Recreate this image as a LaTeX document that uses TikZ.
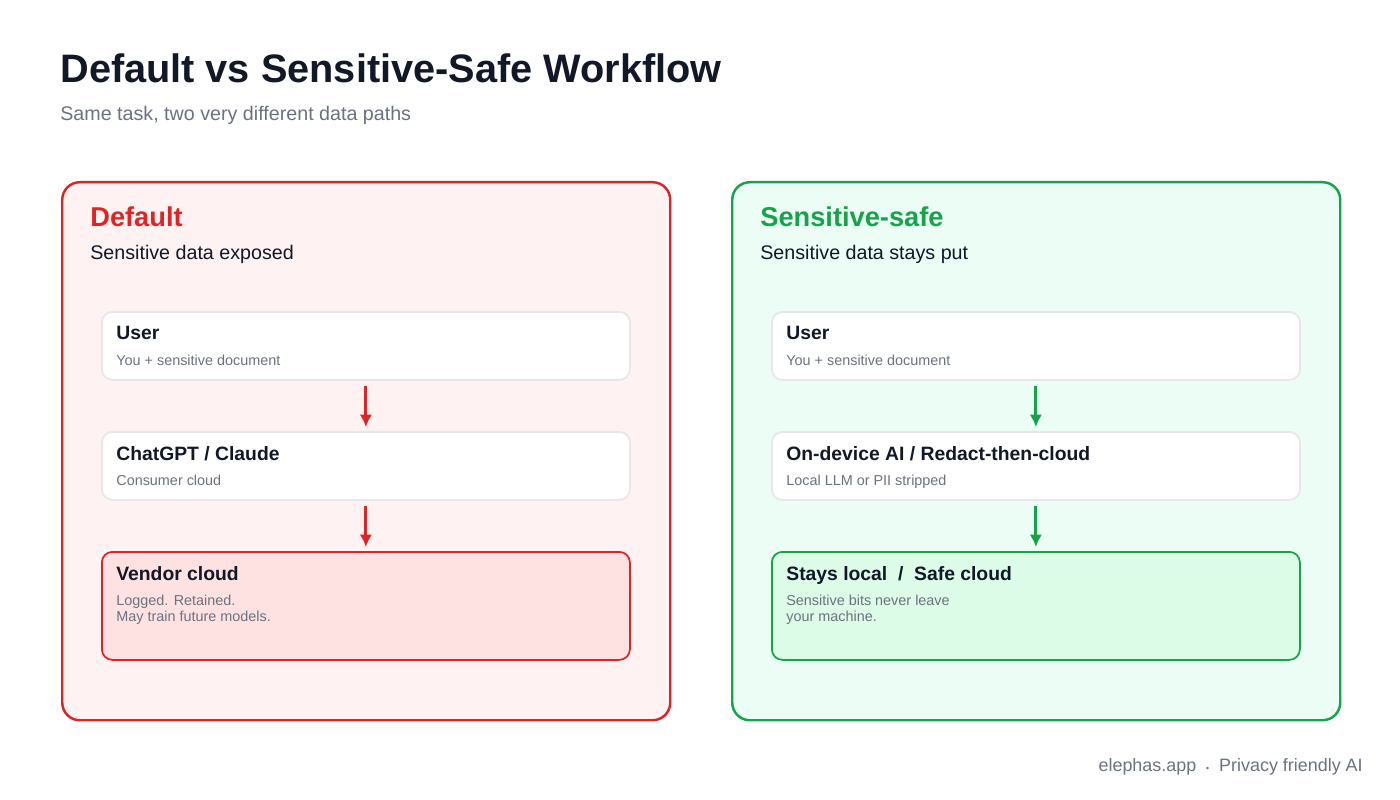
\documentclass[tikz,border=0pt]{standalone}
\usepackage{fontspec}
\setmainfont{Liberation Sans}
\usetikzlibrary{positioning,arrows.meta}
\definecolor{ink}{HTML}{111827}
\definecolor{muted}{HTML}{6B7280}
\definecolor{edge}{HTML}{E5E7EB}
\definecolor{redline}{HTML}{DC2626}
\definecolor{redbg}{HTML}{FEF2F2}
\definecolor{redbox}{HTML}{FEE2E2}
\definecolor{greenline}{HTML}{16A34A}
\definecolor{greenbg}{HTML}{ECFDF5}
\definecolor{greenbox}{HTML}{DCFCE7}
\tikzset{
  panel/.style={draw=#1, line width=1.4pt, rounded corners=10pt, minimum width=608*0.02cm, minimum height=538*0.02cm, anchor=north west},
  stepbox/.style={draw=edge, fill=white, line width=1pt, rounded corners=6pt, minimum width=528*0.02cm, minimum height=68*0.02cm, anchor=north west},
  endbox/.style={stepbox, draw=#1, minimum height=108*0.02cm},
  boxtitle/.style={anchor=north west, inner sep=0pt, text=ink, font=\fontsize{11}{13}\selectfont\bfseries},
  boxnote/.style={anchor=north west, inner sep=0pt, text=muted, align=left, font=\fontsize{8.2}{9.1}\selectfont},
  flow/.style={-{Latex[length=7pt,width=7pt]}, line width=1.6pt, draw=#1},
}
\begin{document}
\begin{tikzpicture}[x=0.02cm,y=-0.02cm]
  \useasboundingbox[fill=white] (0,0) rectangle (1400,800);

  % Heading
  \node[anchor=west, inner sep=0pt, text=ink, font=\fontsize{22.6}{26}\selectfont\bfseries] (title) at (60,68) {Default vs Sensitive-Safe Workflow};
  \node[anchor=west, inner sep=0pt, text=muted, font=\fontsize{11.2}{13}\selectfont] (subtitle) at (60,115) {Same task, two very different data paths};

  % Default panel
  \node[panel=redline, fill=redbg] (left) at (61,181) {};
  \node[anchor=west, inner sep=0pt, text=redline, font=\fontsize{15.5}{18}\selectfont\bfseries] (lhead) at (90,217) {Default};
  \node[anchor=west, inner sep=0pt, text=ink, font=\fontsize{11.2}{13}\selectfont] (lsub) at (90,254) {Sensitive data exposed};

  \node[stepbox] (luser) at (101,311) {};
  \node[boxtitle] at (116,326) {User};
  \node[boxnote] at (116,355) {You + sensitive document};

  \node[stepbox] (lchat) at (101,431) {};
  \node[boxtitle] at (116,446) {ChatGPT / Claude};
  \node[boxnote] at (116,475) {Consumer cloud};

  \node[endbox=redline, fill=redbox] (lvendor) at (101,551) {};
  \node[boxtitle] at (116,566) {Vendor cloud};
  \node[boxnote] at (116,595) {Logged. Retained.\\May train future models.};

  \draw[flow=redline] ([yshift=-5*0.02cm]luser.south) -- ([yshift=4*0.02cm]lchat.north);
  \draw[flow=redline] ([yshift=-5*0.02cm]lchat.south) -- ([yshift=4*0.02cm]lvendor.north);

  % Sensitive-safe panel
  \node[panel=greenline, fill=greenbg] (right) at (731,181) {};
  \node[anchor=west, inner sep=0pt, text=greenline, font=\fontsize{15.5}{18}\selectfont\bfseries] (rhead) at (760,217) {Sensitive-safe};
  \node[anchor=west, inner sep=0pt, text=ink, font=\fontsize{11.2}{13}\selectfont] (rsub) at (760,254) {Sensitive data stays put};

  \node[stepbox] (ruser) at (771,311) {};
  \node[boxtitle] at (786,326) {User};
  \node[boxnote] at (786,355) {You + sensitive document};

  \node[stepbox] (rlocal) at (771,431) {};
  \node[boxtitle] at (786,446) {On-device AI / Redact-then-cloud};
  \node[boxnote] at (786,475) {Local LLM or PII stripped};

  \node[endbox=greenline, fill=greenbox] (rsafe) at (771,551) {};
  \node[boxtitle] at (786,566) {Stays local \ / \ Safe cloud};
  \node[boxnote] at (786,595) {Sensitive bits never leave\\your machine.};

  \draw[flow=greenline] ([yshift=-5*0.02cm]ruser.south) -- ([yshift=4*0.02cm]rlocal.north);
  \draw[flow=greenline] ([yshift=-5*0.02cm]rlocal.south) -- ([yshift=4*0.02cm]rsafe.north);

  % Footer
  \node[anchor=east, inner sep=0pt, text=muted, font=\fontsize{10.2}{12}\selectfont] (footer) at (1363,767) {elephas.app \ {\tiny\textbullet} \ Privacy friendly AI};
\end{tikzpicture}
\end{document}
